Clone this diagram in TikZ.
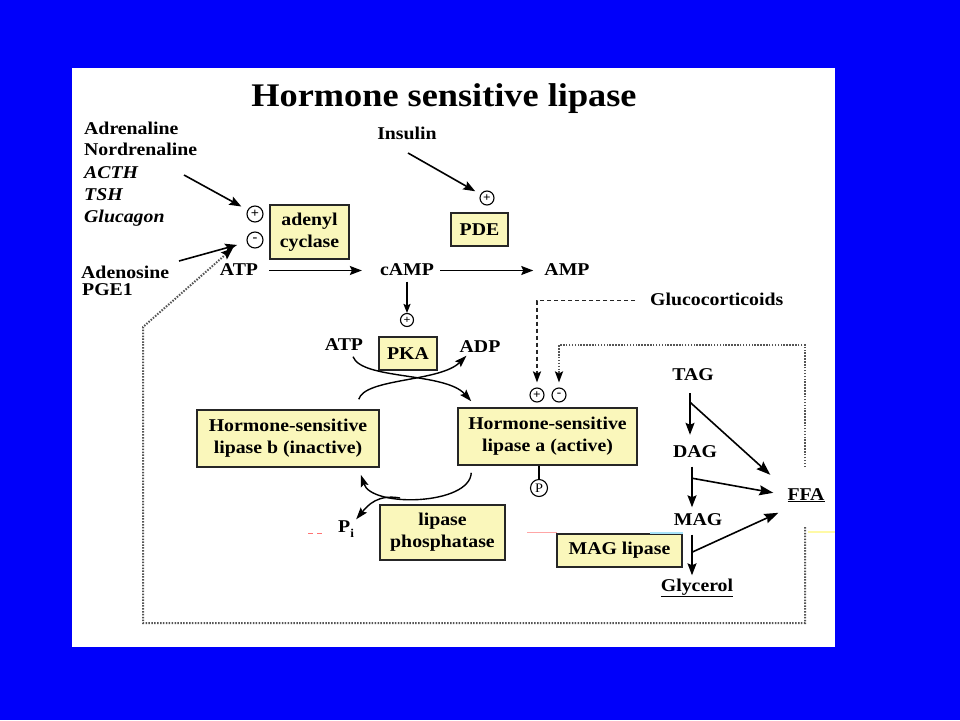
\documentclass[tikz,border=0pt]{standalone}
\usepackage{fontspec}
\setmainfont{Liberation Serif}[FakeStretch=1.1]
\usetikzlibrary{arrows.meta,calc}
\definecolor{bgblue}{RGB}{0,0,250}
\definecolor{boxyellow}{RGB}{250,247,187}
\definecolor{dotgray}{RGB}{85,85,85}
\begin{document}
\begin{tikzpicture}[x=1pt,y=-1pt,
  lbl/.style={inner sep=0pt, font=\fontsize{18}{22}\selectfont\bfseries, text height=12.5pt, text depth=3.5pt},
  ybox/.style={draw=black!85, line width=1.5pt, fill=boxyellow, inner sep=0pt, align=center, font=\fontsize{18}{22}\selectfont\bfseries},
  sign/.style={circle, draw, line width=1.1pt, inner sep=0pt, minimum size=14pt, font=\fontsize{13}{13}\selectfont\bfseries},
  arr/.style={line width=1.6pt, -{Stealth[length=12pt,width=9pt,inset=2pt]}},
  bigarr/.style={line width=1.6pt, -{Stealth[length=14pt,width=10pt,inset=2pt]}},
  smallarr/.style={line width=1.6pt, -{Stealth[length=9pt,width=7pt,inset=1.5pt]}},
  curvarr/.style={line width=1.4pt, -{Stealth[length=12pt,width=8pt,inset=2pt]}},
  dotln/.style={line width=2pt, dotgray, dash pattern=on 1.5pt off 1.4pt},
  dashln/.style={line width=1.8pt, black!85, dash pattern=on 4pt off 3pt},
]
\useasboundingbox (0,0) rectangle (960,720);
\fill[bgblue] (0,0) rectangle (960,720);
\fill[white] (72,68) rectangle (835,647);

% title
\node[font=\fontsize{33}{36}\selectfont\bfseries, inner sep=0pt, anchor=base] (title) at (444,106) {Hormone sensitive lipase};

% left list
\node[lbl,anchor=base west] (adr) at (84,134) {Adrenaline};
\node[lbl,anchor=base west] (nor) at (84,155) {Nordrenaline};
\node[lbl,anchor=base west] (acth) at (84,178) {\itshape ACTH};
\node[lbl,anchor=base west] (tsh) at (84,200) {\itshape TSH};
\node[lbl,anchor=base west] (glg) at (84,222) {\itshape Glucagon};
\node[lbl,anchor=base west] (ado) at (81,278) {Adenosine};
\node[lbl,anchor=base west] (pge) at (82,295) {PGE1};

% labels
\node[lbl,anchor=base] (ins) at (407,139) {Insulin};
\node[lbl,anchor=base] (atpa) at (239,275) {ATP};
\node[lbl,anchor=base] (camp) at (407,275) {cAMP};
\node[lbl,anchor=base] (amp) at (567,275) {AMP};
\node[lbl,anchor=base] (atpb) at (344,350) {ATP};
\node[lbl,anchor=base] (adp) at (480,352) {ADP};
\node[lbl,anchor=base west] (gluco) at (650,305) {Glucocorticoids};
\node[lbl,anchor=base] (tag) at (693,380) {TAG};
\node[lbl,anchor=base] (dag) at (695,457) {DAG};
\node[lbl,anchor=base] (mag) at (698,525) {MAG};
\node[lbl,anchor=base] (glyc) at (697,591) {\underline{Glycerol}};
\node[lbl,anchor=base] (ffa) at (806,500) {\underline{FFA}};
\node[lbl,anchor=base west] (pi) at (338,532) {P\raisebox{-5pt}{\fontsize{12}{12}\selectfont i}};

% boxes
\node[ybox, minimum width=79pt, minimum height=54pt] (ac) at (309.5,232) {adenyl\\cyclase};
\node[ybox, minimum width=57pt, minimum height=33pt] (pde) at (479.5,229.5) {PDE};
\node[ybox, minimum width=58pt, minimum height=33pt] (pka) at (408,353.5) {PKA};
\node[ybox, minimum width=182pt, minimum height=57pt] (hslb) at (288,438.5) {Hormone-sensitive\\lipase b (inactive)};
\node[ybox, minimum width=179pt, minimum height=57pt] (hsla) at (547.5,436.5) {Hormone-sensitive\\lipase a (active)};
\node[ybox, minimum width=125pt, minimum height=55pt] (lph) at (442.5,532.5) {lipase\\phosphatase};
\node[ybox, minimum width=125pt, minimum height=33pt] (magl) at (619.5,550.5) {MAG lipase};

% signs
\node[sign, minimum size=16pt] (acp) at (255,214) {+};
\node[sign, minimum size=16pt] (acm) at (255,240) {-};
\node[sign, minimum size=14pt, font=\fontsize{12}{12}\selectfont\bfseries] (pdep) at (487,198) {+};
\node[sign, minimum size=13pt, font=\fontsize{11}{11}\selectfont\bfseries] (pkap) at (407,320) {+};
\node[sign, minimum size=14pt, font=\fontsize{12}{12}\selectfont\bfseries] (hp) at (537,395) {+};
\node[sign, minimum size=14pt, font=\fontsize{12}{12}\selectfont\bfseries] (hm) at (559,395) {-};
\node[sign, minimum size=17pt, font=\fontsize{13}{13}\selectfont] (pp) at (539,488) {P};

% faint coloured artefact lines
\draw[red!55!white, line width=1pt] (308,533) -- (313,533) (317,533) -- (322,533);
\draw[red!35!white, line width=1pt] (527,532) -- (557,532);
\draw[cyan!35, line width=1.2pt] (650,533) -- (683,533);
\draw[yellow!35, line width=1.5pt] (808,532) -- (835,532);

% activator arrows
\coordinate (agst) at (184,175);
\draw[arr, shorten >=7pt] (agst) -- (acp);
\coordinate (adst) at (179,261);
\draw[arr, shorten >=10pt] (adst) -- (acm);
\coordinate (insst) at (408,153);
\draw[arr, shorten >=6pt] (insst) -- (pdep);

% main chain
\draw[arr, shorten <=11pt, shorten >=18pt] (atpa) -- (camp);
\draw[arr, shorten <=6pt, shorten >=11pt] (camp) -- (amp);
\draw[smallarr, shorten <=3pt] (camp) -- (pkap);

% PKA crossing arcs
\draw[curvarr] ($(atpb.south)+(9,3)$) .. controls (362,380) and (445,372) .. ($(hsla.north west)+(14,-6)$);
\draw[curvarr] ($(hslb.north east)+(-21,-10)$) .. controls (365,378) and (440,382) .. ($(adp.south west)+(7,0)$);

% phosphatase arcs
\draw[curvarr] ($(hsla.south west)+(14,7)$) .. controls (470,505) and (372,508) .. ($(hslb.south east)+(-19,7)$);
\draw[curvarr] (400,498) .. controls (378,494) and (368,505) .. ($(pi.north east)+(2,0)$);

% phosphate
\draw[line width=1.2pt] (pp.north |- hsla.south) -- (pp.north);

% glucocorticoids
\draw[dashln, -{Stealth[length=11pt,width=8pt,inset=2pt,color=black]}, shorten >=5pt] ($(gluco.west)+(-15,0)$) -| (hp);

% FFA feedback loops
\coordinate (ffaup) at (805,467);
\draw[dotln, -{Stealth[length=11pt,width=8pt,inset=2pt,color=black]}, shorten >=5pt] (ffaup) -- (805,345) -| (hm);
\coordinate (ffadn) at (805,527);
\coordinate (dtip) at (233,248);
\draw[dotln, -{Stealth[length=12pt,width=9pt,inset=2pt,color=black]}] (ffadn) -- (805,623) -- (143,623) -- (143,327) -- (dtip);

% lipolysis
\draw[arr] ($(tag.south)+(-3,9.5)$) -- ($(dag.north)+(-5,-9.5)$);
\draw[arr] ($(dag.south)+(-3,6)$) -- ($(mag.north)+(-6,-5)$);
\draw[arr] ($(mag.south)+(-6,6)$) -- ($(glyc.north)+(-5,-3)$);
\draw[bigarr] ($(tag.south)+(-3,18.5)$) -- ($(ffa.north west)+(-17,-12.5)$);
\draw[bigarr] ($(dag.south)+(-3,17.5)$) -- ($(ffa.north west)+(-14,5.5)$);
\draw[bigarr] ($(mag.south)+(-6,23.5)$) -- ($(ffa.north west)+(-9,25.5)$);
\end{tikzpicture}
\end{document}
